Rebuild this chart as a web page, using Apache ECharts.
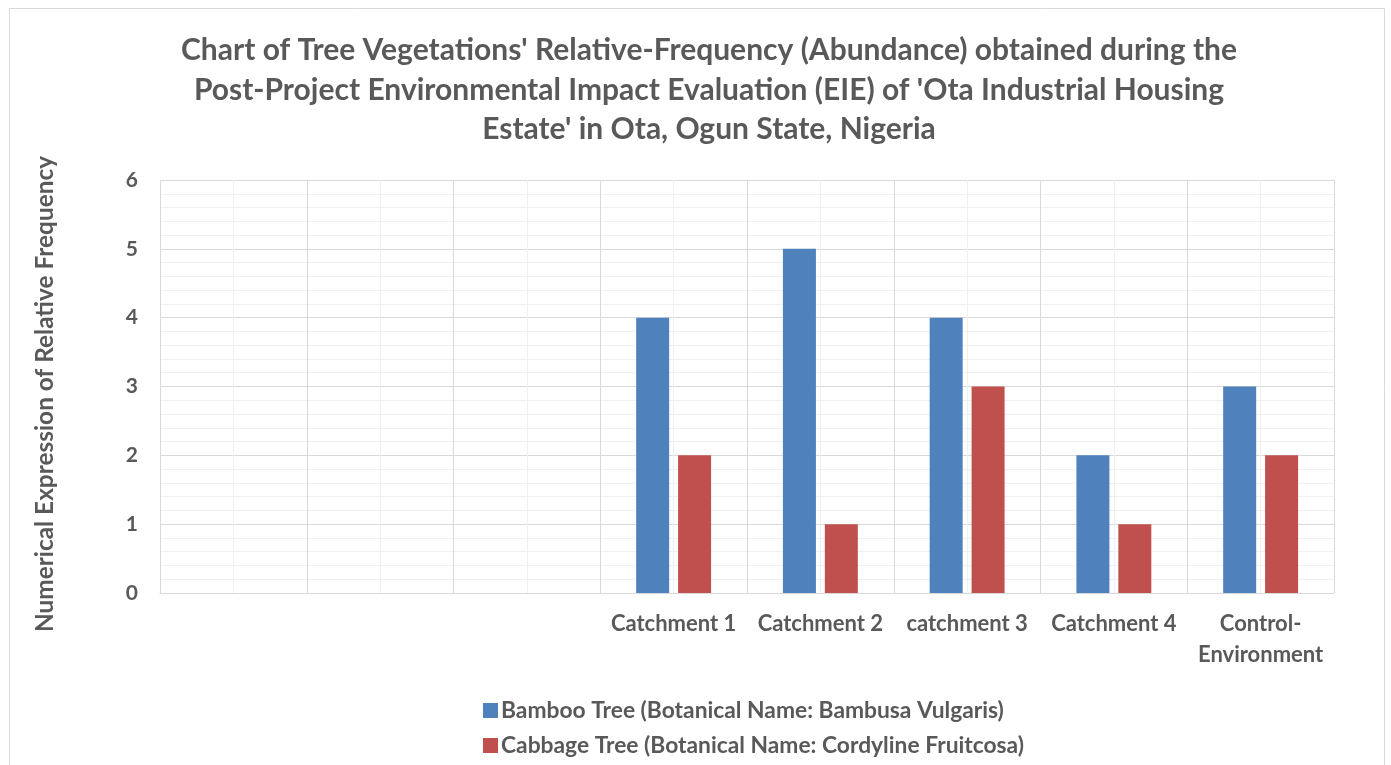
<!DOCTYPE html>
<html><head><meta charset="utf-8">
<script src="https://cdn.jsdelivr.net/npm/echarts@6/dist/echarts.min.js"></script>
<style>html,body{margin:0;padding:0;background:#fff}#c{width:1391px;height:765px}</style>
</head><body><div id="c"></div>
<script>
var categories = ['', ' ', '  ', 'Catchment 1', 'Catchment 2', 'catchment 3', 'Catchment 4', 'Control-\nEnvironment'];
var bambooValues = [null, null, null, 4, 5, 4, 2, 3];
var cabbageValues = [null, null, null, 2, 1, 3, 1, 2];
var yTicks = [0, 1, 2, 3, 4, 5, 6];
var seriesNames = ['Bamboo Tree (Botanical Name: Bambusa Vulgaris)', 'Cabbage Tree (Botanical Name: Cordyline Fruitcosa)'];
var titleText = "Chart of Tree Vegetations' Relative-Frequency (Abundance) obtained during the\nPost-Project Environmental Impact Evaluation (EIE) of 'Ota Industrial Housing\nEstate' in Ota, Ogun State, Nigeria";
var yName = 'Numerical Expression of Relative Frequency';

var FONT = 'Lato';
var TXT = '#595959';
var chart = echarts.init(document.getElementById('c'), null, {renderer: 'canvas'});
chart.setOption({
  animation: false,
  backgroundColor: '#fff',
  textStyle: {fontFamily: FONT},
  graphic: [{
    type: 'rect', shape: {x: 9.5, y: 8.5, width: 1375, height: 770},
    style: {fill: 'none', stroke: '#d9d9d9', lineWidth: 1}, silent: true, z: -10
  }, {
    type: 'text', x: 45, y: 394, rotation: Math.PI / 2,
    style: {text: yName, fontFamily: FONT, fontWeight: 'bold', fontSize: 24.4, fill: TXT,
      align: 'center', verticalAlign: 'middle'}, silent: true
  }],
  title: {
    text: titleText, left: 704, top: 26, textAlign: 'center',
    textStyle: {fontFamily: FONT, fontWeight: 'bold', fontSize: 30, color: TXT, lineHeight: 39.5}
  },
  legend: {
    orient: 'vertical', left: 478, top: 694, itemWidth: 15, itemHeight: 15, itemGap: 12,
    icon: 'rect',
    textStyle: {fontFamily: FONT, fontWeight: 'bold', fontSize: 22.8, color: TXT, padding: [0, 0, 0, -2]},
    data: seriesNames
  },
  grid: {left: 160, top: 180, right: 57, bottom: 172},
  xAxis: [{
    type: 'value', position: 'top', min: 0, max: 8, interval: 0.5, show: true,
    axisLine: {show: false}, axisTick: {show: false}, axisLabel: {show: false},
    splitLine: {show: true, lineStyle: {color: '#f0f0f0', width: 1}}
  }, {
    type: 'category', position: 'bottom', data: categories,
    axisLine: {show: true, lineStyle: {color: '#d9d9d9', width: 1}},
    axisTick: {show: false},
    splitLine: {show: true, interval: 0, lineStyle: {color: '#d9d9d9', width: 1}},
    axisLabel: {interval: 0, margin: 15, fontFamily: FONT, fontWeight: 'bold', fontSize: 22, color: TXT, lineHeight: 31}
  }],
  yAxis: {
    type: 'value', min: yTicks[0], max: yTicks[yTicks.length - 1], interval: 1,
    axisLine: {show: false}, axisTick: {show: false},
    axisLabel: {margin: 22, fontFamily: FONT, fontWeight: 'bold', fontSize: 21, color: TXT},
    splitLine: {show: true, lineStyle: {color: '#d9d9d9', width: 1}},
    minorTick: {show: false, splitNumber: 5},
    minorSplitLine: {show: true, lineStyle: {color: '#f0f0f0', width: 1}}
  },
  series: [{
    name: seriesNames[0], type: 'bar', xAxisIndex: 1, data: bambooValues,
    barWidth: 33, barGap: '27%', itemStyle: {color: '#4F81BD'}
  }, {
    name: seriesNames[1], type: 'bar', xAxisIndex: 1, data: cabbageValues,
    barWidth: 33, barGap: '27%', itemStyle: {color: '#C0504D'}
  }]
});
</script></body></html>
